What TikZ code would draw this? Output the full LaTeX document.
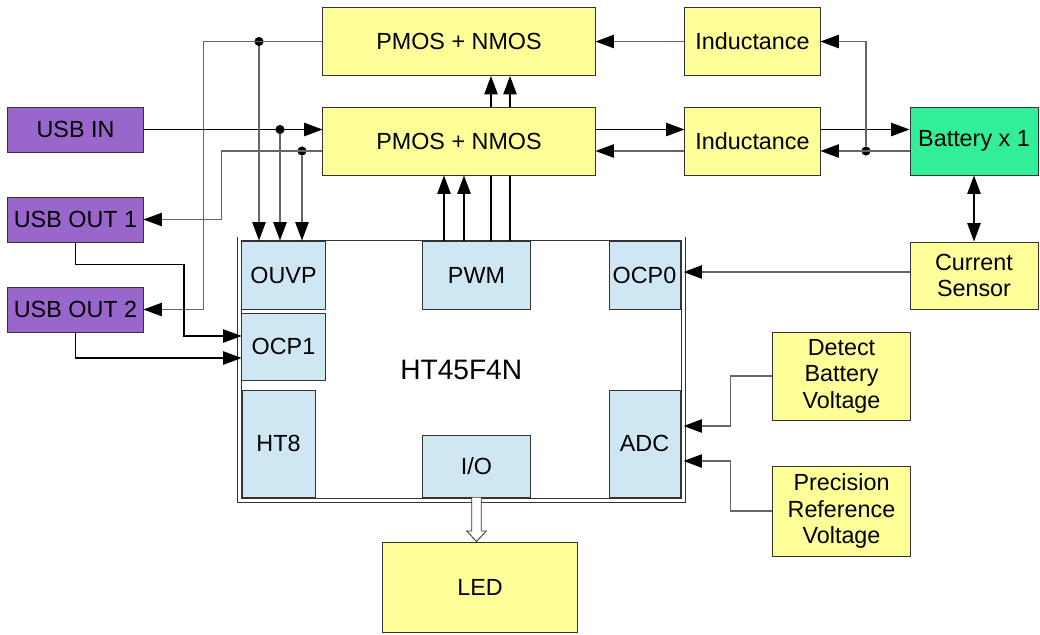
\documentclass[tikz,border=0pt]{standalone}
\usepackage{fontspec}
\setmainfont{Liberation Sans}
\usetikzlibrary{arrows.meta, calc}
\definecolor{boxyellow}{HTML}{FFFF99}
\definecolor{usbpurple}{HTML}{9966CC}
\definecolor{batgreen}{HTML}{33EE99}
\definecolor{modblue}{HTML}{CFE6F3}
\definecolor{wiregray}{HTML}{666666}
\tikzstyle{block} = [rectangle,
inner sep=0pt,
align=center,
draw=black!80,
line width=0.7pt,
font=\fontsize{16.6}{18.8}\selectfont,
fill=boxyellow]
\tikzstyle{usb} = [block, fill=usbpurple]
\tikzstyle{battery} = [block, fill=batgreen]
\tikzstyle{module} = [block, fill=modblue]
\tikzstyle{arrow} = [line width=0.75pt,>={Triangle[length=13pt,width=9.5pt,color=black]}]
\tikzstyle{wire} = [arrow, draw=wiregray]
\tikzstyle{dot} = [circle, fill=black, inner sep=0pt, minimum size=6.5pt]

\begin{document}
\begin{tikzpicture}[x=0.025cm, y=-0.025cm]
\useasboundingbox (0,0) rectangle (1040,634);
% power stage
\node (pmos1) [block, minimum width=6.8cm, minimum height=1.7cm] at (459,41.5) {PMOS + NMOS};
\node (pmos2) [block, minimum width=6.8cm, minimum height=1.7cm] at (459,141) {PMOS + NMOS};
\node (ind1) [block, minimum width=3.375cm, minimum height=1.7cm] at (752.5,41.5) {Inductance};
\node (ind2) [block, minimum width=3.375cm, minimum height=1.7cm] at (752.5,141) {Inductance};
\node (bat) [battery, minimum width=3.2cm, minimum height=1.7cm] at (974,141) {Battery x 1};
\node (current) [block, minimum width=3.2cm, minimum height=1.675cm] at (974,275.5) {Current\\Sensor};
% usb ports
\node (usbin) [usb, minimum width=3.375cm, minimum height=1.125cm] at (75.5,129.5) {USB IN};
\node (usbout1) [usb, minimum width=3.375cm, minimum height=1.125cm] at (75.5,219.5) {USB OUT 1};
\node (usbout2) [usb, minimum width=3.375cm, minimum height=1.125cm] at (75.5,309.5) {USB OUT 2};
% mcu
\node (mcu) [draw=black!80, double, double distance=2.1pt, line width=0.7pt,
  minimum width=11.09cm, minimum height=6.525cm, inner sep=0pt,
  font=\fontsize{20}{24}\selectfont] at (461.25,369.5) {HT45F4N};
\node (ouvp) [module, minimum width=2.075cm, minimum height=1.7cm] at (283.5,275) {OUVP};
\node (ocp1) [module, minimum width=2.075cm, minimum height=1.675cm] at (283.5,346.5) {OCP1};
\node (ht8) [module, minimum width=1.825cm, minimum height=2.675cm] at (278.5,443.5) {HT8};
\node (pwm) [module, minimum width=2.675cm, minimum height=1.7cm] at (476.5,275) {PWM};
\node (io) [module, minimum width=2.675cm, minimum height=1.55cm] at (476.5,466) {I/O};
\node (ocp0) [module, minimum width=1.775cm, minimum height=1.7cm] at (644.5,275) {OCP0};
\node (adc) [module, minimum width=1.775cm, minimum height=2.675cm] at (644.5,443.5) {ADC};
% outside mcu
\node (led) [block, minimum width=4.85cm, minimum height=2.25cm] at (480,587) {LED};
\node (detect) [block, minimum width=3.425cm, minimum height=2.2cm] at (841.5,376) {Detect\\Battery\\Voltage};
\node (prec) [block, minimum width=3.425cm, minimum height=2.25cm] at (841.5,511) {Precision\\Reference\\Voltage};
% junctions
\node (j1) [dot] at (259,41.5) {};
\node (j2) [dot] at (280,129.5) {};
\node (j3) [dot] at (302,151) {};
\node (j4) [dot] at (866,151) {};
% usb wiring
\draw [arrow,->] (usbin) -- (usbin -| pmos2.west);
\draw [wire,->] (pmos1.west) -- ++(-119,0) |- (usbout2.east);
\draw [wire,->] ($(pmos2.west)+(0,10)$) -- ++(-101,0) |- (usbout1.east);
\draw [wire,->] (j1) -- (j1 |- ouvp.north);
\draw [wire,->] (j2) -- (j2 |- ouvp.north);
\draw [wire,->] (j3) -- (j3 |- ouvp.north);
\draw [arrow,->] (usbout1.south) -- ++(0,22) -- ++(108.5,0) |- ($(ocp1.west)+(0,-10.5)$);
\draw [arrow,->] (usbout2.south) |- ($(ocp1.west)+(0,11.5)$);
% inductance and battery
\draw [wire,->] (ind1.west) -- (pmos1.east);
\draw [arrow,->] ($(pmos2.east)+(0,-11.5)$) -- ($(ind2.west)+(0,-11.5)$);
\draw [wire,->] ($(ind2.west)+(0,10)$) -- ($(pmos2.east)+(0,10)$);
\draw [arrow,->] ($(ind2.east)+(0,-11.5)$) -- ($(bat.west)+(0,-11.5)$);
\draw [wire,->] ($(bat.west)+(0,10)$) -- ($(ind2.east)+(0,10)$);
\draw [wire,->] (j4) |- (ind1.east);
\draw [arrow,<->] (bat) -- (current);
\draw [wire,->] ($(current.west)+(0,-3.5)$) -- ($(current.west -| mcu.east)+(0,-3.5)$);
% pwm
\coordinate (pw1) at ($(pwm.north)+(-32.5,0)$);
\coordinate (pw2) at ($(pwm.north)+(-12.5,0)$);
\coordinate (pw3) at ($(pwm.north)+(14.5,0)$);
\coordinate (pw4) at ($(pwm.north)+(33.5,0)$);
\draw [arrow,->] (pw1) -- (pw1 |- pmos2.south);
\draw [arrow,->] (pw2) -- (pw2 |- pmos2.south);
\draw [arrow] (pw3) -- (pw3 |- pmos2.south);
\draw [arrow] (pw4) -- (pw4 |- pmos2.south);
\draw [arrow,->] (pw3 |- pmos2.north) -- (pw3 |- pmos1.south);
\draw [arrow,->] (pw4 |- pmos2.north) -- (pw4 |- pmos1.south);
% adc
\draw [wire,->] (detect.west) -- ++(-42,0) |- ($(adc.east -| mcu.east)+(0,-17.5)$);
\draw [wire,->] (prec.west) -- ++(-42,0) |- ($(adc.east -| mcu.east)+(0,17.5)$);
% io to led
\coordinate (ledtip) at (io.south |- led.north);
\draw [draw=black!80, fill=white, line width=0.6pt] ($(io.south)+(-4.75,0)$) -- ($(ledtip)+(-4.75,-10.5)$)
  -- ($(ledtip)+(-9.75,-10.5)$) -- (ledtip) -- ($(ledtip)+(9.75,-10.5)$)
  -- ($(ledtip)+(4.75,-10.5)$) -- ($(io.south)+(4.75,0)$);
\end{tikzpicture}
\end{document}
